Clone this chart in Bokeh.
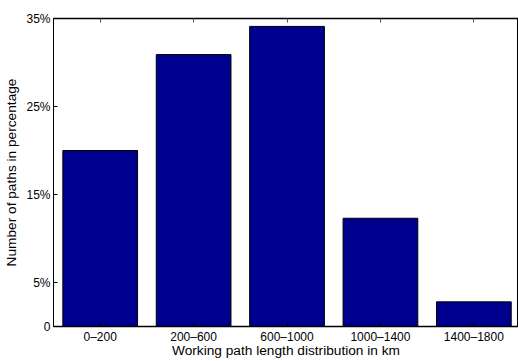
from bokeh.plotting import figure
from bokeh.models import FixedTicker, LinearAxis, Range1d
from bokeh.embed import file_html
from bokeh.resources import INLINE

categories = ["0–200", "200–600", "600–1000", "1000–1400", "1400–1800"]
percentages = [20.0, 30.9, 34.1, 12.3, 2.8]
y_ticks = [0, 5, 15, 25, 35]
y_tick_labels = ["0", "5%", "15%", "25%", "35%"]

xs = list(range(1, len(categories) + 1))

FONT = "Liberation Sans"

p = figure(width=518, height=361, output_backend="svg", toolbar_location=None,
           x_range=Range1d(0.5, 5.478), y_range=Range1d(0, 35),
           min_border_left=53, min_border_right=0, min_border_top=18, min_border_bottom=35)
p.background_fill_color = "white"
p.border_fill_color = "white"
p.outline_line_color = "black"
p.outline_line_width = 1
p.xgrid.visible = False
p.ygrid.visible = False

p.vbar(x=xs, top=percentages, width=0.8, bottom=0,
       fill_color="#00008F", line_color="black", line_width=1)

# bottom axis
xa = p.xaxis[0]
xa.ticker = FixedTicker(ticks=xs)
xa.major_label_overrides = {x: c for x, c in zip(xs, categories)}
xa.major_tick_in = 4
xa.major_tick_out = 0
xa.minor_tick_line_color = None
xa.axis_line_color = "black"
xa.axis_line_width = 1.5
xa.major_label_text_font = FONT
xa.major_label_text_font_size = "12px"
xa.major_label_text_color = "black"
xa.major_label_standoff = 3
xa.axis_label = "Working path length distribution in km"
xa.axis_label_text_font = FONT
xa.axis_label_text_font_size = "13.7px"
xa.axis_label_text_font_style = "normal"
xa.axis_label_text_color = "black"
xa.axis_label_standoff = -4

# left axis
ya = p.yaxis[0]
ya.ticker = FixedTicker(ticks=y_ticks)
ya.major_label_overrides = {t: l for t, l in zip(y_ticks, y_tick_labels)}
ya.major_tick_in = 4
ya.major_tick_out = 0
ya.minor_tick_line_color = None
ya.axis_line_color = "black"
ya.axis_line_width = 1
ya.major_label_text_font = FONT
ya.major_label_text_font_size = "12px"
ya.major_label_text_color = "black"
ya.major_label_standoff = 3
ya.axis_label = "Number of paths in percentage"
ya.axis_label_text_font = FONT
ya.axis_label_text_font_size = "13.7px"
ya.axis_label_text_font_style = "normal"
ya.axis_label_text_color = "black"
ya.axis_label_standoff = 4

# top tick-only axis (box style)
top = LinearAxis(ticker=FixedTicker(ticks=xs), major_tick_in=4, major_tick_out=0,
                 major_label_overrides={x: "" for x in xs}, major_label_standoff=0,
                 minor_tick_line_color=None, axis_line_color="black", axis_line_width=1.5,
                 major_tick_line_color="#555555")
p.add_layout(top, "above")

open("out.html", "w").write(file_html(p, INLINE))
